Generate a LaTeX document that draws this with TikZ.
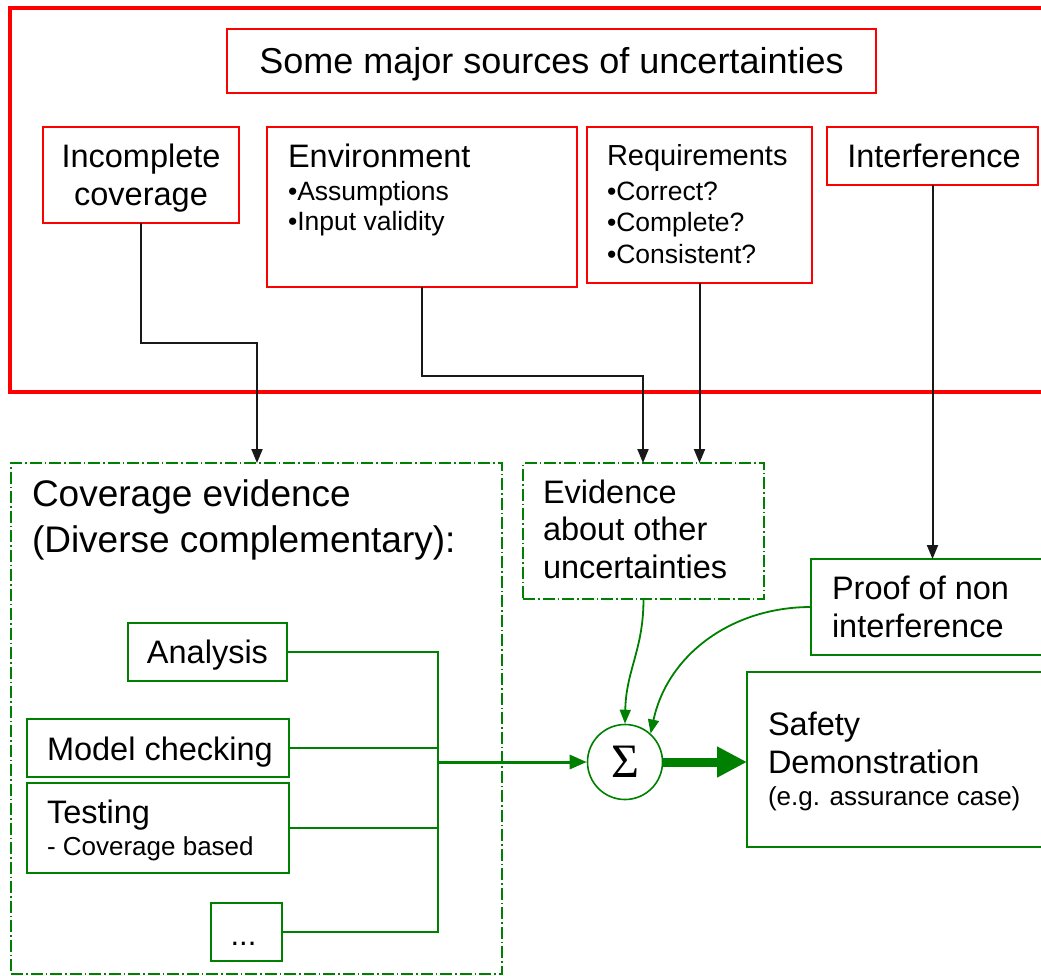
\documentclass[tikz,border=0pt]{standalone}
\usepackage{fontspec}
\setmainfont{Liberation Sans}
\newfontfamily\sigmafont{Liberation Serif}
\usetikzlibrary{arrows.meta}

\definecolor{grn}{RGB}{0,128,0}
\definecolor{redline}{RGB}{255,0,0}
\definecolor{conncol}{RGB}{25,25,25}

\tikzset{
  box/.style={rectangle, inner sep=0pt, outer sep=0pt},
  redbox/.style={box, draw=redline, line width=2pt},
  grnbox/.style={box, draw=grn, line width=2pt},
  dashbox/.style={box, draw=grn, line width=1.8pt,
    dash pattern=on 12pt off 3pt on 1.5pt off 3pt},
  % multi-line texts are placed by the baseline of their last line
  txt/.style={inner sep=0pt, outer sep=0pt, anchor=base west, align=left},
  ctxt/.style={inner sep=0pt, outer sep=0pt, anchor=base, align=center},
  ftitle/.style={font=\fontsize{36}{42}\selectfont},
  fmain/.style={font=\fontsize{32.5}{37.5}\selectfont},
  fbig/.style={font=\fontsize{37}{46}\selectfont},
  fbullet/.style={font=\fontsize{26.5}{31.5}\selectfont},
  fsmall/.style={font=\fontsize{26}{31}\selectfont},
  conn/.style={draw=conncol, line width=2pt,
    -{Triangle[length=14pt,width=11pt]}},
  gline/.style={draw=grn, line width=2pt},
  garrow/.style={draw=grn, line width=1.8pt,
    -{Triangle[length=14pt,width=11pt]}},
  busarrow/.style={draw=grn, line width=3pt,
    -{Triangle[length=17pt,width=14pt]}},
  bigarrow/.style={draw=grn, fill=grn, line width=9pt,
    -{Triangle[length=30pt,width=29pt]}},
}

\begin{document}
\begin{tikzpicture}[x=1pt, y=-1pt]
  \useasboundingbox (0,0) rectangle (1041,975);
  \clip (0,0) rectangle (1041,975);

  % outer frame grouping the sources of uncertainty
  \draw[redline, line width=3.5pt] (10,8) rectangle (1046,392);

  % title
  \node[redbox, minimum width=649pt, minimum height=64pt] (title) at (551.5,61) {};
  \node[ctxt, ftitle] (titletext) at (551.5,73) {Some major sources of uncertainties};

  % sources
  \node[redbox, minimum width=196pt, minimum height=96pt] (inc) at (141,175) {};
  \node[ctxt, fmain] (inctext) at (141,205) {Incomplete\\coverage};

  \node[redbox, minimum width=310pt, minimum height=160pt] (env) at (422,207) {};
  \node[txt, fmain] (envhead) at (288,167) {Environment};
  \node[txt, fbullet] (envlist) at (288,230) {•Assumptions\\[-1.5pt]•Input validity};

  \node[redbox, minimum width=225pt, minimum height=156pt] (req) at (699.5,205) {};
  \node[txt, font=\fontsize{29}{34}\selectfont] (reqhead) at (607,165) {Requirements};
  \node[txt, fbullet] (reqlist) at (607,263) {•Correct?\\•Complete?\\•Consistent?};

  \node[redbox, minimum width=211pt, minimum height=58pt] (intf) at (932.5,156) {};
  \node[ctxt, fmain] (intftext) at (934,167) {Interference};

  % evidence groups
  \node[dashbox, minimum width=491pt, minimum height=511pt] (cov) at (256.5,718.5) {};
  \node[txt, fbig] (covtext) at (32,552) {Coverage evidence\\(Diverse complementary):};

  \node[dashbox, minimum width=241pt, minimum height=136pt] (evid) at (643.5,531) {};
  \node[txt, fmain] (evidtext) at (543,578) {Evidence\\about other\\uncertainties};

  % kinds of coverage evidence
  \node[grnbox, minimum width=159pt, minimum height=58pt] (ana) at (207.5,652) {};
  \node[ctxt, fmain] (anatext) at (207.5,663) {Analysis};

  \node[grnbox, minimum width=262pt, minimum height=58pt] (mc) at (158,748) {};
  \node[txt, fmain] (mctext) at (47,760) {Model checking};

  \node[grnbox, minimum width=262pt, minimum height=90pt] (test) at (158,828) {};
  \node[txt, fmain] (testtext) at (47,823) {Testing};
  \node[txt, fsmall] (testsub) at (47,855) {- Coverage based};

  \node[grnbox, minimum width=71pt, minimum height=58pt] (dots) at (246.5,932) {};
  \node[ctxt, font=\fontsize{31}{36}\selectfont] (dotstext) at (243.5,945) {...};

  % combination and results
  \node[circle, draw=grn, line width=1.6pt, minimum size=75pt, inner sep=0pt,
        font=\sigmafont\fontsize{48}{48}\selectfont] (sigma) at (625,762) {Σ};

  \node[grnbox, minimum width=239pt, minimum height=96pt] (proof) at (930.5,607) {};
  \node[txt, fmain] (prooftext) at (832,637) {Proof of non\\interference};

  \node[grnbox, minimum width=303pt, minimum height=175pt] (safety) at (898.5,759.5) {};
  \node[txt, fmain] (safetytext) at (768,773) {Safety\\Demonstration};
  \node[txt, fsmall] (safetysub) at (768,805) {(e.g. assurance case)};

  % sources to evidence
  \draw[conn] (inc.south) |- (257,343) -- (257,0 |- cov.north);
  \draw[conn] (env.south) |- (643,376) -- (643,0 |- evid.north);
  \draw[conn] (req.south) -- (req.south |- evid.north);
  \draw[conn] (intf.south) -- (intf.south |- proof.north);

  % bus collecting the coverage evidence
  \coordinate (bus) at (438,762);
  \draw[gline] (ana.east) -- (bus |- ana.east) -- (bus |- dots.east) -- (dots.east);
  \draw[gline] (mc.east) -- (bus |- mc.east);
  \draw[gline] (test.east) -- (bus |- test.east);
  \draw[busarrow] (bus) -- (sigma.west);

  % inputs and output of the sum
  \draw[garrow] (evid.south) .. controls (643.5,650) and (626,670) .. (sigma.north);
  \draw[garrow] (proof.west) to[out=180, in=78] (sigma.48);
  \draw[bigarrow] (sigma.east) -- (sigma.east -| safety.west);
\end{tikzpicture}
\end{document}
